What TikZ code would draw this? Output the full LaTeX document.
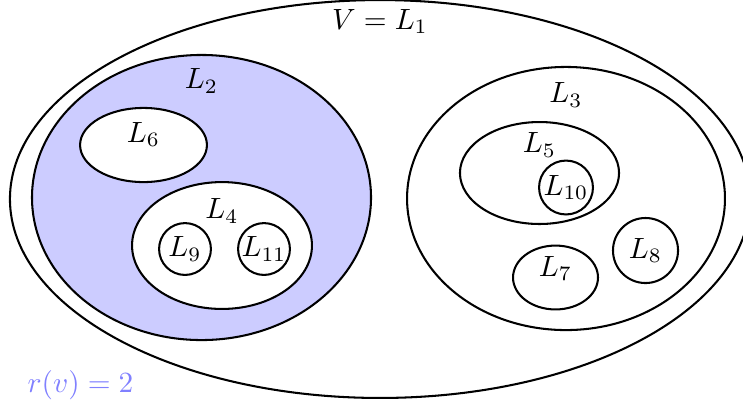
\documentclass[tikz,border=0pt]{standalone}
\usepackage{tikz}
\usetikzlibrary{positioning,shapes.geometric}
\definecolor{setfill}{HTML}{CCCCFF}
\definecolor{rankblue}{HTML}{8080FF}
\tikzset{
  setbox/.style={
    ellipse,
    draw=black,
    line width=0.7pt,
    fill=white,
    inner sep=0pt
  },
  shadedset/.style={setbox, fill=setfill},
  atombox/.style={circle, draw=black, line width=0.7pt, fill=white, inner sep=0pt},
  setlabel/.style={inner sep=0pt, text=black},
  rankann/.style={inner sep=0pt, text=rankblue}
}

\begin{document}
\begin{tikzpicture}[x=0.3413pt, y=-0.3413pt]
  \useasboundingbox (0,0) rectangle (743,406);

  % outer set and its two blocks
  \node[setbox, fill=none, minimum width=252.6pt, minimum height=135.8pt] (L1) at (380,199) {};
  \node[shadedset, minimum width=115.7pt, minimum height=97.3pt] (L2) at (201.5,197.5) {};
  \node[setbox, minimum width=108.5pt, minimum height=89.8pt] (L3) at (566,198.5) {};

  % inside L2
  \node[setbox, minimum width=43.3pt, minimum height=25.3pt] (L6) at (143.5,145) {};
  \node[setbox, minimum width=61.4pt, minimum height=43.3pt] (L4) at (222,245.5) {};
  \node[atombox, minimum size=17.7pt] (L9) at (185,249) {$L_9$};
  \node[atombox, minimum size=17.7pt] (L11) at (264,249) {$L_{11}$};

  % inside L3
  \node[setbox, minimum width=54.3pt, minimum height=34.8pt] (L5) at (539.5,173) {};
  \node[atombox, minimum size=18.4pt] (L10) at (566,187.5) {$L_{10}$};
  \node[setbox, minimum width=29pt, minimum height=21.8pt] (L7) at (555.5,277.5) {};
  \node[atombox, minimum size=22.2pt] (L8) at (645.5,250.5) {$L_8$};

  \node[setlabel, below=3.4pt of L1.north] (l1) {$V=L_1$};
  \node[setlabel, below=4.8pt of L2.north] (l2) {$L_2$};
  \node[setlabel, below=5.5pt of L3.north] (l3) {$L_3$};
  \node[setlabel, below=5pt of L6.north] (l6) {$L_6$};
  \node[setlabel, below=5.8pt of L4.north] (l4) {$L_4$};
  \node[setlabel, below=3.8pt of L5.north] (l5) {$L_5$};
  \node[setlabel, below=3.8pt of L7.north] (l7) {$L_7$};

  \node[rankann, anchor=base west] (rank) at (27,392) {$r(v)=2$};
\end{tikzpicture}
\end{document}
